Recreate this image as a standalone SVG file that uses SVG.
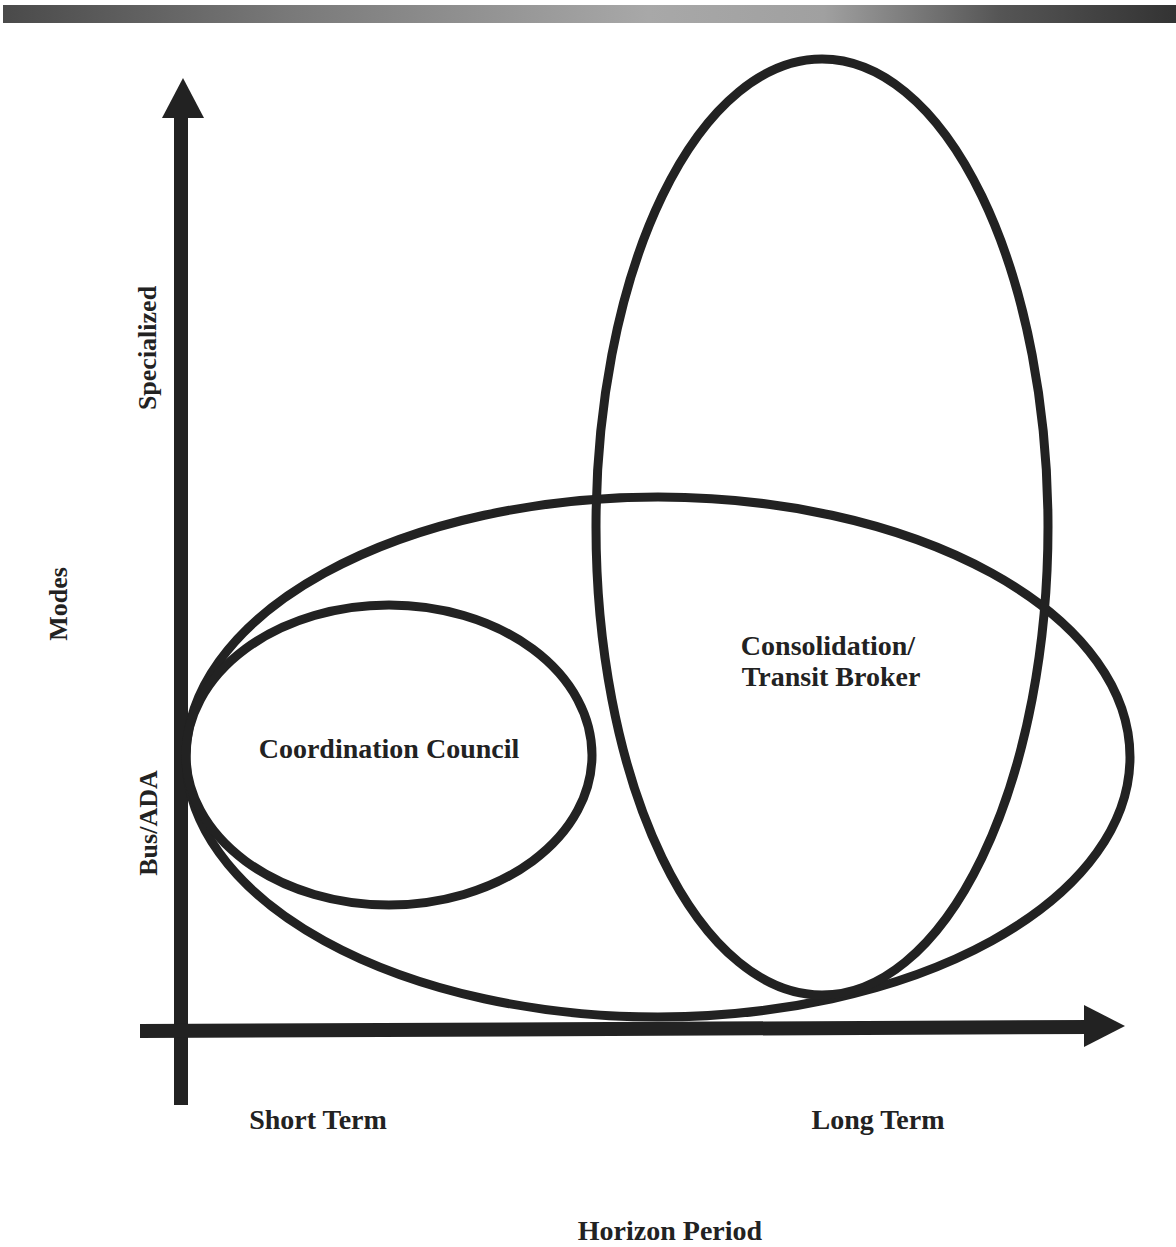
<svg xmlns="http://www.w3.org/2000/svg" width="1176" height="1247" viewBox="0 0 1176 1247">
<style>
.ell{fill:none;stroke:#222;stroke-width:9}
.axis{stroke:#222;stroke-width:14;fill:none}
.head{fill:#222}
.lbl{font-family:"Liberation Serif","Times New Roman",serif;font-weight:bold;font-size:26px;fill:#222;text-anchor:middle}
.h{font-size:28px}
</style>
<defs>
<linearGradient id="bar" x1="0" y1="0" x2="1" y2="0">
<stop offset="0" stop-color="#4a4a4a"/>
<stop offset="0.25" stop-color="#7a7a7a"/>
<stop offset="0.55" stop-color="#a8a8a8"/>
<stop offset="0.7" stop-color="#a0a0a0"/>
<stop offset="0.85" stop-color="#555"/>
<stop offset="1" stop-color="#333"/>
</linearGradient>
</defs>
<rect width="1176" height="1247" fill="#fff"/>
<rect x="3" y="5" width="1173" height="18" fill="url(#bar)"/>
<g id="connectors">
<g id="y-axis">
<line class="axis" x1="181" y1="112" x2="181" y2="1105"/>
<polygon class="head" points="183,78 204,118 162,118"/>
</g>
<g id="x-axis">
<line class="axis" x1="140" y1="1031" x2="1090" y2="1027"/>
<polygon class="head" points="1125,1026 1084,1005 1084,1047"/>
</g>
</g>
<g id="node-big">
<ellipse class="ell" cx="658" cy="757" rx="472" ry="260"/>
</g>
<g id="node-coordination">
<ellipse class="ell" cx="389" cy="755" rx="203" ry="150"/>
<text class="lbl h" x="389" y="758">Coordination Council</text>
</g>
<g id="node-consolidation">
<ellipse class="ell" cx="822" cy="527" rx="226" ry="468"/>
<text class="lbl h" x="828" y="655">Consolidation/</text>
<text class="lbl h" x="831" y="686">Transit Broker</text>
</g>
<g id="labels">
<text class="lbl" transform="translate(156,348) rotate(-90)">Specialized</text>
<text class="lbl" transform="translate(67,604) rotate(-90)">Modes</text>
<text class="lbl" transform="translate(157,823) rotate(-90)">Bus/ADA</text>
<text class="lbl h" x="318" y="1129">Short Term</text>
<text class="lbl h" x="878" y="1129">Long Term</text>
<text class="lbl h" x="670" y="1240">Horizon Period</text>
</g>
</svg>
